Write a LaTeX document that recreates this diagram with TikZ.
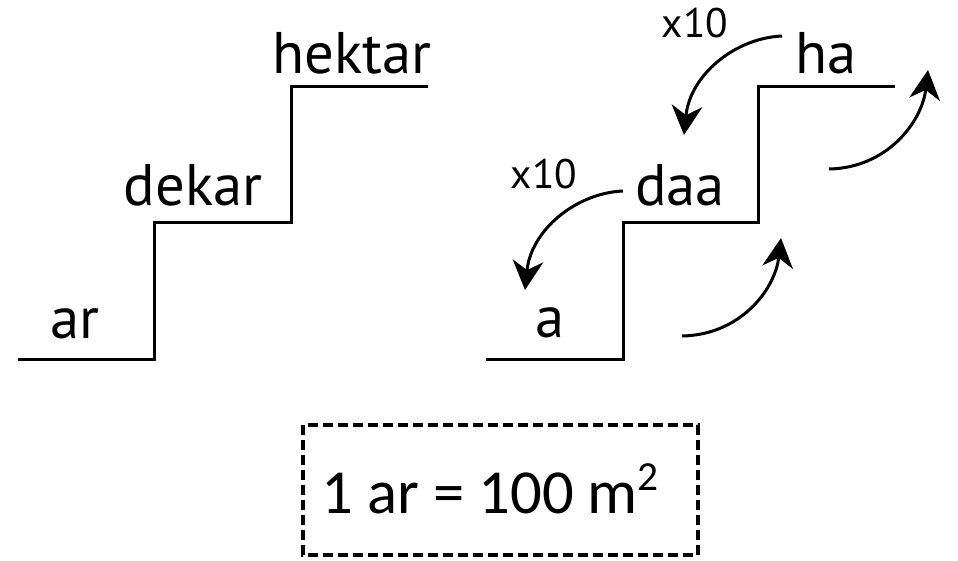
\documentclass[tikz,border=0pt]{standalone}
\usepackage{fontspec}
\setmainfont{PT Sans}
\newfontfamily\rulefont{Carlito}
\usetikzlibrary{arrows.meta}

\tikzset{every picture/.style={line width=2.25pt}}
\tikzset{
  steplabel/.style={anchor=base,inner sep=0.75pt,font=\fontsize{44}{52}\selectfont},
  factorlabel/.style={anchor=base,inner sep=0.75pt,font=\fontsize{31}{36}\selectfont},
  bentarrow/.style={-{Stealth[length=22pt,width=23pt,inset=7pt]},line width=2.25pt},
  ruleframe/.style={line width=2.8pt,dash pattern=on 7.5pt off 3.75pt},
  ruletext/.style={anchor=base,inner sep=0.75pt,font=\rulefont\fontsize{47}{56}\selectfont},
}

\begin{document}
\begin{tikzpicture}[x=0.75pt,y=0.75pt,yscale=-1,xscale=1]
\useasboundingbox (0,0) rectangle (958,561);

%Shape: left stairs
\draw [line join=miter]  (18,359) -- (154,359) -- (154,222) -- (291,222) -- (291,86) -- (428,86) ;
%Shape: right stairs
\draw [line join=miter]  (486,359) -- (623,359) -- (623,222) -- (758,222) -- (758,86) -- (895,86) ;

% Text Node
\node [steplabel] (ar) at (75,338) {ar};
% Text Node
\node [steplabel] (dekar) at (193,205) {dekar};
% Text Node
\node [steplabel] (hektar) at (352,73) {hektar};
% Text Node
\node [steplabel] (a) at (550,337) {a};
% Text Node
\node [steplabel] (daa) at (680,205) {daa};
% Text Node
\node [steplabel] (ha) at (826,73) {ha};
% Text Node
\node [factorlabel] (xten1) at (695,37) {x10};
% Text Node
\node [factorlabel] (xten2) at (544,188) {x10};

%Arrow ends
\coordinate (haout) at (782,36);
\coordinate (daain) at (684,135);
\coordinate (daaout) at (623,191);
\coordinate (ain) at (525,290);
\coordinate (aout) at (682,336);
\coordinate (daaup) at (781,238);
\coordinate (daastart) at (829,169);
\coordinate (haup) at (928,70);

%Curve Lines: down the stairs
\draw [bentarrow]  (haout) .. controls (735,38) and (690,75) .. (daain) ;
\draw [bentarrow]  (daaout) .. controls (576,193) and (531,230) .. (ain) ;
%Curve Lines: up the stairs
\draw [bentarrow]  (aout) .. controls (740,335) and (775,290) .. (daaup) ;
\draw [bentarrow]  (daastart) .. controls (887,168) and (922,122) .. (haup) ;

%Shape: dashed frame
\draw [ruleframe]  (303,425) rectangle (698,555) ;
% Text Node
\node [ruletext] (rule) at (490,513) {1 ar = 100 m\raisebox{17pt}{\fontsize{31}{36}\selectfont 2}};

\end{tikzpicture}
\end{document}
